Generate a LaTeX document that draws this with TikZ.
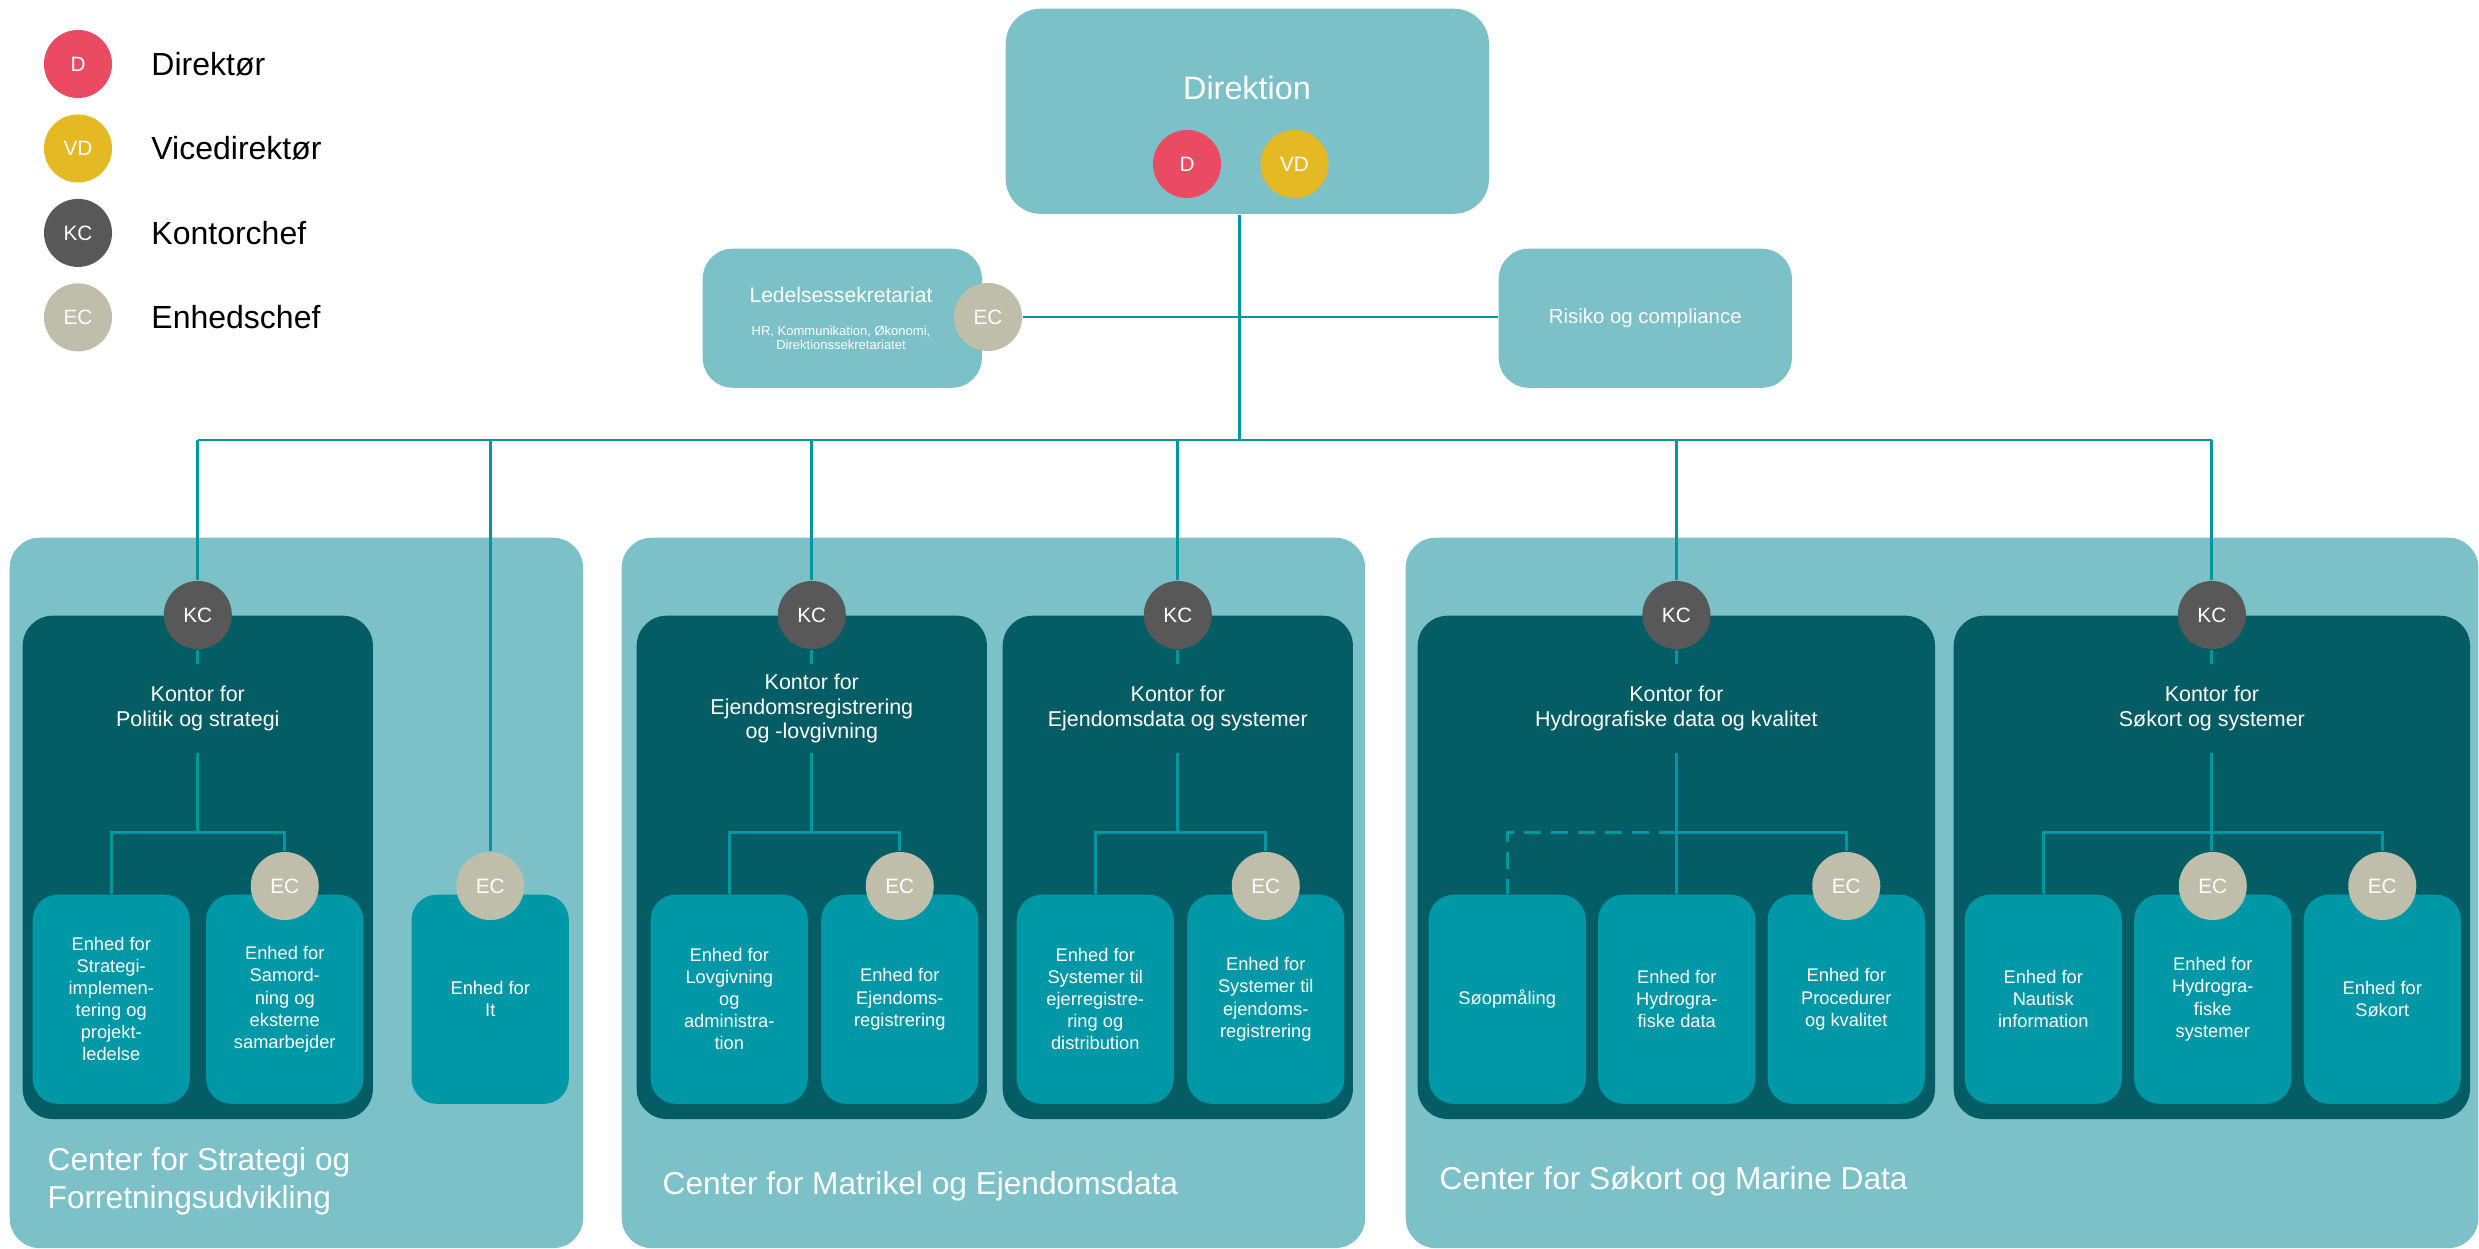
\documentclass[tikz,border=0pt]{standalone}
\usepackage{fontspec}
\setmainfont{Liberation Sans}
\usepackage{tikz}
\usetikzlibrary{positioning}

\definecolor{lightteal}{RGB}{123,193,199}
\definecolor{darkteal}{RGB}{4,93,100}
\definecolor{unitteal}{RGB}{0,151,167}
\definecolor{linkteal}{RGB}{0,150,162}
\definecolor{dred}{RGB}{234,75,98}
\definecolor{vdyellow}{RGB}{229,185,36}
\definecolor{kcgrey}{RGB}{88,88,88}
\definecolor{ecbeige}{RGB}{191,190,170}

\begin{document}
\begin{tikzpicture}[x=0.01cm,y=-0.01cm,node distance=0.15cm,
  conn/.style={draw=linkteal,line width=0.85pt},
  panel/.style={fill=lightteal,rounded corners=0.3cm,anchor=north west,inner sep=0pt},
  kontor/.style={fill=darkteal,rounded corners=0.3cm,anchor=north west,inner sep=0pt,
    minimum width=3.5cm,minimum height=5.03cm},
  unit/.style={fill=unitteal,rounded corners=0.25cm,inner sep=0pt,minimum width=1.57cm,
    minimum height=2.09cm,text=white,align=center,font=\fontsize{5.2}{6.26}\selectfont},
  chef/.style={circle,inner sep=0pt,minimum size=0.68cm,text=white,font=\fontsize{5.9}{6}\selectfont},
  dcirc/.style={chef,fill=dred},
  vdcirc/.style={chef,fill=vdyellow},
  kccirc/.style={chef,fill=kcgrey},
  eccirc/.style={chef,fill=ecbeige},
  ktitle/.style={inner sep=0pt,minimum height=0.88cm,text=white,align=center,
    font=\fontsize{6.1}{7.1}\selectfont},
  legend/.style={inner sep=0pt,font=\fontsize{9.1}{10}\selectfont},
  centre/.style={anchor=west,inner sep=0pt,text=white,align=left,font=\fontsize{9}{10.8}\selectfont}]
  \useasboundingbox (0,0) rectangle (2479,1249);

  \node[dcirc] (lgd) at (78,64){D};
  \node[vdcirc] [below=of lgd] (lgvd){VD};
  \node[kccirc] [below=of lgvd] (lgkc){KC};
  \node[eccirc] [below=of lgkc] (lgec){EC};
  \node[legend] [right=0.38cm of lgd] (lgdtxt){Direktør};
  \node[legend] [right=0.38cm of lgvd] (lgvdtxt){Vicedirektør};
  \node[legend] [right=0.38cm of lgkc] (lgkctxt){Kontorchef};
  \node[legend] [right=0.38cm of lgec] (lgectxt){Enhedschef};

  \node[panel,minimum width=4.83cm,minimum height=2.05cm,rounded corners=0.35cm] (dir) at (1005,8){};
  \node[text=white,font=\fontsize{9.2}{10}\selectfont] (dirtxt) at (1247,88){Direktion};
  \node[dcirc] (dird) at (1187,164){D};
  \node[vdcirc] [right=0.38cm of dird] (dirvd){VD};

  \node[panel,minimum width=2.79cm,minimum height=1.39cm] (led) at (702,248){};
  \node[text=white,font=\fontsize{6}{7}\selectfont] (ledtxt) at (841,295){Ledelsessekretariat};
  \node[text=white,align=center,font=\fontsize{3.7}{4.1}\selectfont] (ledsub) at (841,338)
    {HR, Kommunikation, Økonomi,\\Direktionssekretariatet};
  \node[eccirc] (ec0) at (988,317){EC};
  \node[panel,minimum width=2.93cm,minimum height=1.39cm,text=white,
    font=\fontsize{5.8}{7}\selectfont] (risk) at (1498,248){Risiko og compliance};

  \node[panel,minimum width=5.73cm,minimum height=7.1cm] (c1) at (9,537){};
  \node[panel,minimum width=7.43cm,minimum height=7.1cm] (c2) at (621,537){};
  \node[panel,minimum width=10.72cm,minimum height=7.1cm] (c3) at (1405,537){};
  \node[centre] (c1txt) at (47,1181){Center for Strategi og\\Forretningsudvikling};
  \node[centre] (c2txt) at (662,1186){Center for Matrikel og Ejendomsdata};
  \node[centre] (c3txt) at (1439,1181){Center for Søkort og Marine Data};

  \node[kontor] (k1) at (22,615){};
  \node[kontor] (k2) at (636,615){};
  \node[kontor] (k3) at (1002,615){};
  \node[kontor,minimum width=5.17cm] (k4) at (1417,615){};
  \node[kontor,minimum width=5.16cm] (k5) at (1953,615){};

  \node[kccirc] (kc1) at (k1.north){KC};
  \node[kccirc] (kc2) at (k2.north){KC};
  \node[kccirc] (kc3) at (k3.north){KC};
  \node[kccirc] (kc4) at (k4.north){KC};
  \node[kccirc] (kc5) at (k5.north){KC};
  \node[ktitle] [below=0.14cm of kc1] (kt1){Kontor for\\Politik og strategi};
  \node[ktitle] [below=0.14cm of kc2] (kt2){Kontor for\\Ejendomsregistrering\\og -lovgivning};
  \node[ktitle] [below=0.14cm of kc3] (kt3){Kontor for\\Ejendomsdata og systemer};
  \node[ktitle] [below=0.14cm of kc4] (kt4){Kontor for\\Hydrografiske data og kvalitet};
  \node[ktitle] [below=0.14cm of kc5] (kt5){Kontor for\\Søkort og systemer};

  \node[unit,anchor=north west] (u11) at (32,894){Enhed for\\Strategi-\\implemen-\\tering og\\projekt-\\ledelse};
  \node[unit] [right=0.15cm of u11] (u12){Enhed for\\Samord-\\ning og\\eksterne\\samarbejder};
  \node[unit,anchor=north west] (uit) at (411,894){Enhed for\\It};
  \node[unit,anchor=north west] (u21) at (650,894){Enhed for\\Lovgivning\\og\\administra-\\tion};
  \node[unit] [right=0.12cm of u21] (u22){Enhed for\\Ejendoms-\\registrering};
  \node[unit,anchor=north west] (u31) at (1016,894){Enhed for\\Systemer til\\ejerregistre-\\ring og\\distribution};
  \node[unit] [right=0.12cm of u31] (u32){Enhed for\\Systemer til\\ejendoms-\\registrering};
  \node[unit,anchor=north west] (u41) at (1428,894){Søopmåling};
  \node[unit] [right=0.11cm of u41] (u42){Enhed for\\Hydrogra-\\fiske data};
  \node[unit] [right=0.11cm of u42] (u43){Enhed for\\Procedurer\\og kvalitet};
  \node[unit,anchor=north west] (u51) at (1964,894){Enhed for\\Nautisk\\information};
  \node[unit] [right=0.11cm of u51] (u52){Enhed for\\Hydrogra-\\fiske\\systemer};
  \node[unit] [right=0.11cm of u52] (u53){Enhed for\\Søkort};

  \node[eccirc] (ec12) at ([yshift=0.08cm]u12.north){EC};
  \node[eccirc] (ecit) at ([yshift=0.08cm]uit.north){EC};
  \node[eccirc] (ec22) at ([yshift=0.08cm]u22.north){EC};
  \node[eccirc] (ec32) at ([yshift=0.08cm]u32.north){EC};
  \node[eccirc] (ec43) at ([yshift=0.08cm]u43.north){EC};
  \node[eccirc] (ec52) at ([yshift=0.08cm]u52.north){EC};
  \node[eccirc] (ec53) at ([yshift=0.08cm]u53.north){EC};

  \coordinate (hub) at (1239,440);
  \coordinate [below=0.79cm of kt1] (br1);
  \coordinate [below=0.79cm of kt2] (br2);
  \coordinate [below=0.79cm of kt3] (br3);
  \coordinate [below=0.79cm of kt4] (br4);
  \coordinate [below=0.79cm of kt5] (br5);

  \draw[conn] (hub |- dir.south) -- (hub);
  \draw[conn] (kc1 |- hub) -- (kc5 |- hub);
  \draw[conn] (ec0.east) -- (ec0.east -| risk.west);
  \path[conn]
  (kc1 |- hub) edge (kc1.north)
  (ecit |- hub) edge (ecit.north)
  (kc2 |- hub) edge (kc2.north)
  (kc3 |- hub) edge (kc3.north)
  (kc4 |- hub) edge (kc4.north)
  (kc5 |- hub) edge (kc5.north)
  (kc1.south) edge (kt1.north)
  (kc2.south) edge (kt2.north)
  (kc3.south) edge (kt3.north)
  (kc4.south) edge (kt4.north)
  (kc5.south) edge (kt5.north)
  (kt1.south) edge (br1)
  (kt2.south) edge (br2)
  (kt3.south) edge (br3)
  (kt4.south) edge (kt4.south |- u42.north)
  (kt5.south) edge (kt5.south |- ec52.north)
  ;
  \draw[conn] (u11.north) -- (u11.north |- br1) -- (ec12.north |- br1) -- (ec12.north);
  \draw[conn] (u21.north) -- (u21.north |- br2) -- (ec22.north |- br2) -- (ec22.north);
  \draw[conn] (u31.north) -- (u31.north |- br3) -- (ec32.north |- br3) -- (ec32.north);
  \draw[conn,dash pattern=on 0.17cm off 0.1cm] (br4) -- (u41.north |- br4) -- (u41.north);
  \draw[conn] (br4) -- (ec43.north |- br4) -- (ec43.north);
  \draw[conn] (u51.north) -- (u51.north |- br5) -- (ec53.north |- br5) -- (ec53.north);
\end{tikzpicture}
\end{document}
